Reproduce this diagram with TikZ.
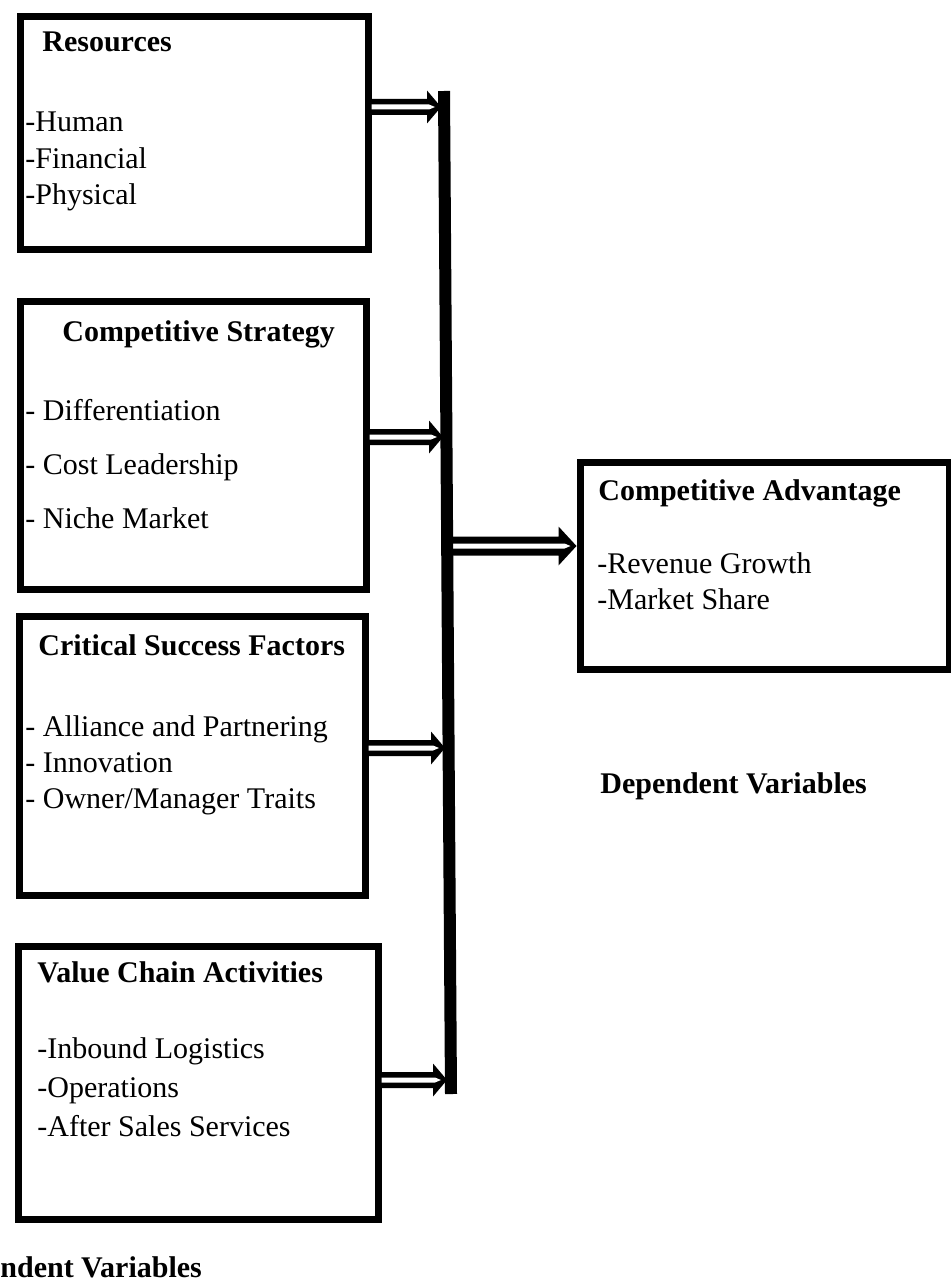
\documentclass[tikz,border=0pt]{standalone}
\usepackage{fontspec}
\setmainfont{Liberation Serif}
\usetikzlibrary{calc}
% #1 start, #2 tip, #3 half shaft, #4 half head, #5 head length
\newcommand{\dblarr}[5]{%
  \fill[black] ($(#1)+(0,-#3)$) -- ($(#2)+(-#5,-#3)$) -- ($(#2)+(-#5,-#4)$) -- (#2)
     -- ($(#2)+(-#5,#4)$) -- ($(#2)+(-#5,#3)$) -- ($(#1)+(0,#3)$) -- cycle;
  \fill[white] ($(#1)+(0,-2.5)$) -- ($(#2)+(-12,-2.5)$) -- ($(#2)+(-6,0)$)
     -- ($(#2)+(-12,2.5)$) -- ($(#1)+(0,2.5)$) -- cycle;
}
\tikzset{
  box/.style={draw=black, line width=3.5pt, inner sep=0pt, anchor=north west},
  lbl/.style={anchor=base west, inner sep=0pt, font=\fontsize{15pt}{18pt}\selectfont},
  ttl/.style={anchor=base west, inner sep=0pt, font=\fontsize{15pt}{18pt}\selectfont\bfseries},
  barline/.style={line width=6pt, line cap=butt},
}
\begin{document}
\begin{tikzpicture}[x=0.5pt,y=-0.5pt]
\useasboundingbox (0,0) rectangle (950,1284);
% boxes (border centre)
\node[box, minimum width=174pt, minimum height=116pt] (res) at (16.5,13.5) {};
\node[box, minimum width=173pt, minimum height=144pt] (cs) at (16.5,297.5) {};
\node[box, minimum width=173pt, minimum height=139.5pt] (csf) at (15.5,612.5) {};
\node[box, minimum width=180pt, minimum height=136.5pt] (vc) at (14.5,942.5) {};
\node[box, minimum width=184.5pt, minimum height=103.5pt] (ca) at (576.5,458.5) {};
% bar end points
\coordinate (bartop) at (444,91);
\coordinate (barbot) at (451,1094);
% arrow levels
\coordinate (y1) at (0,107);
\coordinate (y2) at (0,437);
\coordinate (y3) at (0,748);
\coordinate (y4) at (0,1080);
\coordinate (y5) at (0,546);
\coordinate (a1s) at (res.east |- y1); \coordinate (a1t) at (441,107);
\coordinate (a2s) at (cs.east |- y2);  \coordinate (a2t) at (443,437);
\coordinate (a3s) at (csf.east |- y3); \coordinate (a3t) at (445,748);
\coordinate (a4s) at (vc.east |- y4);  \coordinate (a4t) at (447,1080);
\coordinate (a5s) at (452,546);        \coordinate (a5t) at (ca.west |- y5);
\dblarr{a1s}{a1t}{8}{16.5}{14}
\dblarr{a2s}{a2t}{8}{16.5}{14}
\dblarr{a3s}{a3t}{8}{16.5}{14}
\dblarr{a4s}{a4t}{8}{16.5}{14}
\dblarr{a5s}{a5t}{9.5}{19.5}{18}
% vertical bar
\draw[barline] (bartop) -- (barbot);
% texts
\node[ttl] (t1) at (42,52) {Resources};
\node[lbl] (t1a) at (25,132) {-Human};
\node[lbl] (t1b) at (25,168) {-Financial};
\node[lbl] (t1c) at (25,204) {-Physical};
\node[ttl] (t2) at (62,341) {Competitive Strategy};
\node[lbl] (t2a) at (25,420) {- Differentiation};
\node[lbl] (t2b) at (25,474) {- Cost Leadership};
\node[lbl] (t2c) at (25,528) {- Niche Market};
\node[ttl] (t3) at (38,655) {Critical Success Factors};
\node[lbl] (t3a) at (25,736) {- Alliance and Partnering};
\node[lbl] (t3b) at (25,772) {- Innovation};
\node[lbl] (t3c) at (25,808) {- Owner/Manager Traits};
\node[ttl] (t4) at (37,982) {Value Chain Activities};
\node[lbl] (t4a) at (37,1058) {-Inbound Logistics};
\node[lbl] (t4b) at (37,1097) {-Operations};
\node[lbl] (t4c) at (37,1136) {-After Sales Services};
\node[ttl] (t5) at (598,500) {Competitive Advantage};
\node[lbl] (t5a) at (597,573) {-Revenue Growth};
\node[lbl] (t5b) at (597,609) {-Market Share};
\node[ttl] (dv) at (600,793) {Dependent Variables};
\node[ttl] (iv) at (0,1277) {ndent Variables};
\end{tikzpicture}
\end{document}
